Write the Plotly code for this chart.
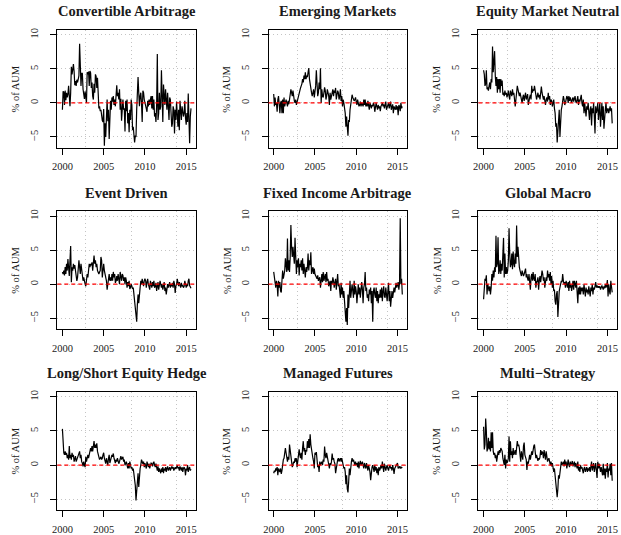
import numpy as np
import plotly.graph_objects as go

# ---------------- data (monthly, % of AUM, starting Jan 2000) ----------------
START_YEAR = 2000

TITLES = ["Convertible Arbitrage", "Emerging Markets", "Equity Market Neutral",
          "Event Driven", "Fixed Income Arbitrage", "Global Macro",
          "Long/Short Equity Hedge", "Managed Futures", "Multi\u2212Strategy"]

Y_LABEL = "% of AUM"
X_TICKS = [2000, 2005, 2010, 2015]
X_TICK_LABELS = ["2000", "2005", "2010", "2015"]
Y_TICKS = [-5, 0, 5, 10]
Y_TICK_LABELS = ["\u22125", "0", "5", "10"]

convertible_arbitrage = [
    -1.0, 1.7, 1.6, -0.3, 1.8, 0.4, 1.5, 0.8, 1.3, 2.5, 1.0, -0.5,
    1.5, 5.3, 4.2, 5.0, 5.7, 4.6, 2.6, 3.2, 2.5, 3.4, 3.0, 3.5,
    4.0, 8.7, 4.5, 2.5, 4.4, 4.3, 2.0, 1.2, 0.6, 1.7, 0.8, 0.0,
    4.5, 4.2, 4.6, 2.5, 4.7, 4.4, 2.2, 3.0, 1.0, 0.5, 2.8, 1.5,
    4.2, 3.9, 2.2, 3.7, 1.5, -0.8, -0.5, -1.2, -1.0, -2.0, -2.6, -2.8,
    -0.9, -6.3, -3.0, -5.0, -1.5, 0.5, -2.7, -1.0, -5.3, -0.5, 0.3, -1.0,
    0.8, 0.2, 1.0, -0.3, 0.5, -0.5, 1.0, 2.6, 1.0, 1.5, 0.5, 2.0,
    -1.0, 0.6, -2.6, -0.5, 0.5, -1.0, -0.8, -4.2, 0.3, -1.2, 0.5, -3.0,
    -1.5, -4.3, -1.0, -2.5, 0.5, -0.3, -4.0, -3.5, -4.3, -5.8, -4.8, -5.0,
    -1.0, 1.0, 3.8, 1.5, -0.5, 1.0, 1.5, 0.0, -2.8, 1.8, 1.5, 0.5,
    0.0, -0.5, -1.0, -1.3, 0.3, -0.5, 0.5, -0.3, 0.5, 1.0, -0.8, 1.0,
    -1.0, 0.5, -2.0, -1.5, -2.8, -0.5, 7.2, -2.5, -1.5, 1.5, -1.0, -0.5,
    4.8, -0.5, -2.8, 2.7, 1.5, -0.3, 2.0, 0.5, -1.0, 1.5, -0.5, -2.5,
    0.8, 0.5, -1.5, -3.5, -3.0, -0.5, -1.0, -4.5, -1.0, -2.5, 0.2, -1.5,
    -3.5, -1.0, -4.0, 0.3, -1.5, -2.5, -0.5, -1.8, -2.0, -1.5, 0.3, -2.2,
    -3.2, -1.5, -2.8, 1.4, -2.0, -5.9, -2.0, -0.8,
]

emerging_markets = [
    1.3, -0.5, 0.8, -0.3, 0.0, -1.3, 0.5, 1.0, -0.2, -1.5, 0.0, 0.3,
    -1.5, 0.5, -1.5, 0.8, -0.5, 0.0, 0.5, 0.0, -0.5, 0.3, -0.2, 0.5,
    1.0, 2.0, 1.5, 1.0, 1.8, 0.5, 0.3, 0.0, 0.5, -0.3, 0.2, 0.5,
    1.0, 1.5, 2.0, 2.2, 2.5, 2.8, 3.5, 3.0, 4.0, 3.5, 4.5, 3.5,
    4.0, 3.8, 4.5, 5.1, 3.5, 2.5, 2.0, 1.5, 1.0, 1.5, 2.0, 0.8,
    1.5, 2.5, 4.8, 2.0, 1.0, 1.5, 3.0, 2.0, 5.1, 0.0, 2.0, 1.0,
    0.8, 1.5, 2.3, 1.8, 0.5, 1.0, 2.0, 1.5, 1.0, -0.3, 1.5, 0.5,
    1.0, 1.5, 2.0, 1.0, 1.8, 1.5, 2.2, 0.5, 1.0, 1.8, 1.5, 0.5,
    1.0, 2.0, 0.3, 1.0, -0.5, 0.5, 0.0, -0.8, -1.5, -3.5, -2.0, -3.5,
    -4.8, -2.5, -2.8, -1.0, 0.0, 0.5, 1.2, 0.8, 0.5, 0.3, 0.5, 0.8,
    0.2, -0.3, 0.5, 0.0, -0.5, -0.3, 0.2, -0.5, 0.0, -0.2, -0.5, 0.5,
    -0.3, 0.5, -0.5, 0.0, -0.5, 0.3, -0.2, -1.0, 0.0, -0.5, -0.8, -0.3,
    -0.5, 0.0, -0.3, -1.3, -0.5, 0.0, -0.5, -1.0, -0.3, -0.8, -0.5, -1.2,
    -0.5, -0.3, 0.0, -0.5, -0.2, -0.8, -0.3, 0.2, -1.0, -0.5, -0.3, 0.0,
    -0.8, -0.3, 0.2, -1.0, -0.5, -0.2, -1.5, -0.5, -0.8, -1.0, -0.3, -1.0,
    -0.5, -1.8, -0.3, -0.5, -1.2, 0.0, -0.8, -0.5,
]

equity_market_neutral = [
    4.8, 4.2, 2.5, 2.8, 4.8, 2.0, 2.3, 1.8, 2.5, 3.0, 2.0, 3.5,
    3.0, 8.3, 4.5, 7.0, 7.6, 4.0, 2.5, 3.8, 1.5, 3.5, 2.0, 3.5,
    1.5, 3.5, 2.5, 3.3, 1.2, 1.5, 1.0, 1.8, 1.2, 1.5, 0.8, 1.2,
    1.8, 1.0, 0.5, 1.8, 1.5, 1.0, 2.0, 1.2, 1.5, 0.5, -0.5, 0.5,
    1.5, 2.5, 2.0, 1.5, 1.0, 1.5, 0.8, 0.5, 0.0, 0.8, 1.2, 0.3,
    1.0, 1.5, 0.5, 0.8, 1.3, -0.3, 0.5, 0.8, 1.2, 0.5, 2.5, 1.5,
    2.0, 1.8, 2.5, 1.5, 1.0, 0.5, 1.0, 1.5, 0.8, 1.2, 0.5, 1.5,
    2.4, 1.5, 1.0, 0.5, 1.0, 0.3, -0.3, 0.5, 0.8, 0.2, 1.5, 0.5,
    1.0, -0.3, 0.5, 0.3, -0.5, 0.0, 0.5, -0.8, -1.5, -3.5, -3.0, -5.8,
    -3.8, -1.5, -1.0, -5.0, -2.0, -1.0, -0.5, 0.0, 1.0, 0.5, -0.3, 0.0,
    0.5, 1.0, 0.8, 0.0, 1.0, 0.3, 0.8, 0.5, 0.0, 0.5, 0.8, 0.2,
    0.5, 1.0, 0.2, 0.0, 0.5, 1.0, -0.3, 0.5, 0.2, 0.8, 1.2, 0.0,
    -0.5, 0.5, -1.5, 0.0, -1.0, -2.0, -0.5, -1.0, 0.0, -1.5, -2.5, -1.0,
    -0.5, -3.3, -0.8, -1.5, 0.0, -2.0, -4.5, -0.5, -1.5, -1.0, 0.0, -2.5,
    -0.5, 0.0, -3.5, -1.0, 0.0, -2.5, -0.5, -3.8, -1.5, -1.0, 0.0, -1.5,
    -1.0, -0.8, -1.5, -1.0, -0.5, -1.2, -0.8, -3.0,
]

event_driven = [
    1.8, 1.5, 2.0, 1.3, 2.5, 1.5, 3.0, 2.0, 3.7, 2.5, 1.2, 3.5,
    5.6, 0.3, 2.5, 2.0, 3.0, 2.3, 2.8, 2.0, 1.5, 0.5, 1.0, 2.0,
    3.5, 2.5, 1.5, 3.0, 2.2, 1.0, 0.5, 1.0, 0.2, 0.0, -0.3, 0.5,
    1.5, 1.0, 2.0, 3.0, 2.5, 3.0, 2.8, 3.2, 2.0, 3.5, 4.2, 3.0,
    3.5, 2.5, 3.0, 2.0, 1.5, 1.5, 1.8, 2.0, 4.0, 3.5, 1.0, 2.5,
    3.0, 2.0, 1.5, 1.0, 0.5, -0.8, 0.3, 0.8, 1.5, 0.5, 1.0, 0.5,
    1.5, 0.5, 1.8, 1.0, 1.5, 0.2, 0.5, 1.2, 0.5, 1.5, 1.0, 0.0,
    1.8, 1.0, 0.5, 1.5, 1.3, 0.5, 1.0, 0.0, 1.0, 0.5, -0.5, 0.3,
    -0.3, 0.5, -0.7, -0.5, 0.0, -0.3, -0.7, -0.5, -1.5, -2.5, -3.5, -3.8,
    -5.5, -3.0, -1.5, -2.8, -1.0, -0.5, 0.5, 0.0, 0.8, 0.3, -0.3, 0.5,
    0.8, 0.5, -0.5, 0.3, 0.8, 0.0, -0.5, -0.8, 0.5, -0.3, -0.5, 0.3,
    -0.3, 0.5, -0.5, -0.3, 0.2, -1.0, -0.5, 0.3, -0.8, -0.3, 0.5, 0.0,
    -0.5, 0.0, -0.8, -0.3, 0.3, -1.0, -0.5, -1.5, -0.3, 0.0, -0.5, -0.2,
    0.3, -0.5, 0.0, -0.3, 0.2, -0.5, 0.5, 0.0, -1.3, -0.3, 0.0, 0.8,
    0.0, -0.3, 0.3, 0.0, -0.5, 0.2, -0.3, -0.2, -0.5, -0.3, 0.5, 0.0,
    -0.5, 0.0, -0.3, 0.5, 0.8, -0.2, -0.5, -0.6,
]

fixed_income_arbitrage = [
    1.8, 0.8, 0.3, -0.5, 0.5, 0.0, -1.8, 0.5, -0.5, 0.3, -1.0, -1.2,
    0.5, 2.0, 0.8, 1.5, 2.0, 3.8, 2.5, 1.8, 6.7, 2.0, 3.5, 1.8,
    4.0, 8.7, 5.5, 4.0, 5.5, 4.5, 3.0, 6.8, 4.0, 1.5, 3.5, 2.5,
    3.8, 1.3, 3.0, 2.5, 3.5, 2.0, 3.8, 1.5, 3.0, 2.0, 1.0, 2.5,
    1.8, 2.5, 4.5, 2.0, 3.5, 2.8, 4.7, 1.5, 2.0, 2.5, 1.5, 2.3,
    1.5, 1.2, 1.0, 0.8, 1.3, 0.5, 0.8, 1.0, -0.5, 0.5, 1.5, 0.3,
    1.8, 0.5, 1.0, 1.5, 0.3, 1.8, 0.5, 0.8, -0.3, 0.2, 0.5, -1.0,
    0.5, 0.0, 1.0, 0.5, -0.5, 0.2, 0.8, -0.8, 0.3, 1.5, -0.3, 0.0,
    -1.0, -2.0, 0.2, -1.5, -0.5, -2.0, -1.0, -2.5, -4.5, -5.5, -3.5, -6.0,
    -1.5, -3.5, -1.5, 0.5, -2.0, -0.5, 0.0, -1.0, -2.0, 0.5, -1.5, -0.3,
    -1.0, -2.8, -0.5, 0.0, -1.5, -0.5, -2.0, -1.0, 0.3, -0.8, -2.8, -0.5,
    0.0, 1.8, -1.0, -0.5, -2.0, -1.5, -2.5, -0.8, -1.5, -0.5, -2.8, -1.0,
    -5.5, -1.0, -0.5, -1.5, -2.0, -0.5, -2.5, -1.0, -2.8, -1.5, -2.0, -0.8,
    -2.0, -0.5, -2.5, -1.0, -0.3, -1.8, -2.0, -0.5, -1.5, -2.5, -1.0, 0.2,
    -2.5, -1.0, -3.3, -1.5, -1.0, -2.0, -0.8, -0.5, -1.2, -0.3, 0.2, -0.5,
    -0.2, 0.3, -0.8, 0.2, 9.7, 0.0, 0.8, -1.5,
]

global_macro = [
    -2.2, 0.5, 0.8, 0.5, 1.3, -1.5, 0.0, -0.5, -1.0, -0.3, -1.5, -0.5,
    1.5, 0.5, 2.0, 1.0, 2.5, 1.8, 7.1, 2.5, 3.0, 6.9, 1.5, 2.0,
    3.5, 1.5, 3.0, 2.0, 4.0, 6.8, 1.0, 4.5, 1.5, 2.5, 1.5, 2.0,
    3.5, 8.2, 4.5, 2.5, 3.0, 4.5, 2.2, 4.8, 3.0, 2.5, 4.5, 3.0,
    8.6, 4.0, 5.5, 3.5, 2.5, 2.0, 1.5, 1.2, 2.0, 1.5, 1.2, 1.5,
    2.0, 2.3, 1.0, 1.5, 0.8, 0.5, 1.5, -0.2, -0.8, 1.0, 1.5, 0.5,
    1.8, 0.8, 0.5, 1.5, -0.5, 0.3, 0.5, 1.0, -0.8, 0.5, 1.2, 0.3,
    1.0, 2.0, 1.5, 0.5, 1.0, -0.5, 0.3, 1.0, 0.5, 2.0, 1.0, 1.5,
    0.5, 1.8, 0.0, 1.2, -0.5, 0.5, -1.0, -0.8, -2.5, -3.0, -1.5, -1.0,
    -4.8, -2.0, -1.0, -0.5, 0.0, 0.5, 0.3, 1.5, 0.5, 0.0, 0.3, -0.5,
    0.5, 0.0, -0.5, 0.3, -1.0, 0.5, -0.5, 0.0, -1.0, -0.3, 0.5, -0.8,
    0.5, 0.0, -0.5, 0.5, -1.0, -2.8, -0.5, -1.5, -0.3, -1.5, -0.5, -1.0,
    -0.5, -1.5, 0.0, -1.0, -1.8, -0.5, -1.2, -0.8, -1.5, -0.3, -1.0, -1.8,
    -0.5, -1.0, 0.0, -1.5, -0.5, -0.8, -0.3, 0.3, -0.5, -0.2, -0.5, -0.3,
    -0.5, -0.3, -0.8, -0.5, -0.2, -0.5, -0.8, -0.3, -0.6, 0.0, -0.5, -0.2,
    0.6, -1.8, 0.0, -1.0, -1.5, 0.5, -0.5, -1.2,
]

long_short_equity_hedge = [
    5.3, 3.0, 1.8, 1.5, 2.0, 1.5, 1.8, 1.0, 1.5, 0.8, 2.8, 1.0,
    1.5, 0.8, 1.8, 1.2, 1.5, 0.5, 1.0, 1.3, 0.5, 0.8, 1.0, 1.5,
    1.8, 2.0, 1.0, 1.5, 0.5, 0.3, -0.2, 0.5, 0.0, -0.3, 1.2, 0.5,
    1.0, 1.5, 1.0, 1.5, 2.0, 2.5, 2.0, 2.8, 2.0, 3.0, 3.5, 2.5,
    3.0, 2.5, 3.2, 2.0, 1.5, 1.0, 0.8, 1.0, 1.2, 0.8, 1.0, 1.5,
    1.8, 1.0, 0.5, 0.2, 1.0, 0.5, 0.0, 1.0, 1.5, 0.3, 0.8, 1.2,
    1.5, 1.2, 1.7, 1.0, 0.5, 0.3, 0.8, 0.5, 1.0, 0.5, 0.2, 0.5,
    1.2, 1.3, 0.8, 1.0, 1.2, 0.5, 0.8, 0.0, 0.3, 0.5, 0.0, -0.5,
    0.3, -0.5, 0.5, 0.0, -0.5, -0.3, -0.8, -0.5, -1.5, -2.0, -3.0, -5.2,
    -3.5, -1.5, -1.2, -3.2, -1.0, -0.5, 0.0, 0.8, 0.5, 0.2, 0.5, -0.3,
    0.3, 0.0, -0.5, 0.5, 0.0, -0.3, 0.2, -0.5, 0.0, 0.3, 0.2, -0.2,
    0.3, 0.5, 0.0, -0.3, 0.2, -0.5, -0.8, -0.2, -1.0, -0.5, -0.8, -1.2,
    -0.5, -1.0, -0.3, -1.2, -0.5, -0.8, -0.3, -1.0, -0.5, -0.2, -0.8, -0.5,
    -0.3, -0.8, -0.5, -0.2, -0.5, -0.3, -0.8, -0.5, -0.3, -0.6, -0.2, 0.0,
    -0.5, -0.3, -0.8, -0.2, -0.5, -0.8, -0.3, -1.0, -0.5, -0.3, -0.6, -1.5,
    -0.5, -0.8, 0.0, -1.0, -0.5, -0.3, -0.8, -0.6,
]

managed_futures = [
    -1.2, -0.8, -1.0, -0.5, -0.8, -0.3, -1.5, -0.5, -0.8, -1.0, -0.5, -1.3,
    -0.8, 0.5, 0.8, 1.0, 1.5, 2.5, 1.8, 1.0, 0.5, 1.2, 0.8, 3.0,
    2.0, 1.0, 0.5, -0.3, 0.0, 0.5, 0.3, 1.0, 0.5, 1.0, -0.3, 0.5,
    1.5, 2.3, 1.5, 1.0, 1.8, 0.8, 2.5, 3.5, 2.0, 2.5, 1.5, 2.2,
    2.0, 3.5, 2.5, 3.8, 2.5, 4.5, 3.0, 2.0, 1.5, 1.0, 0.5, -0.5,
    1.8, 1.5, 1.9, 0.5, -0.3, 0.0, -1.0, 0.5, 0.0, 0.3, 0.5, 0.0,
    0.8, 0.5, 2.7, 1.5, 1.0, 1.8, 1.2, 0.5, -0.2, -0.5, 0.3, 0.0,
    0.5, 1.7, 0.8, 1.0, 0.5, 0.2, -1.2, -0.3, 0.5, 0.8, 1.0, 0.5,
    0.8, 1.0, 0.5, 1.0, 0.5, 0.0, -0.5, -0.3, -1.0, -2.8, -1.5, -3.5,
    -4.0, -2.5, -0.5, -1.5, 0.3, 0.5, 1.0, 0.5, 0.8, 0.3, 0.0, 0.5,
    0.0, 0.3, -0.3, 0.5, -0.5, 0.2, 0.6, 0.0, 0.3, 0.5, 0.0, -0.5,
    0.3, 0.0, -0.5, 0.3, -0.3, -0.8, 0.0, -0.5, -1.0, -2.2, -0.5, -0.3,
    0.0, -0.5, -1.0, 0.0, -0.8, -0.3, -1.2, -0.5, -1.5, -0.3, -0.8, -0.5,
    0.0, -0.5, 0.5, -0.3, -1.0, 0.2, -0.5, -0.8, -0.3, 0.0, -0.5, -0.8,
    -0.3, 0.0, -0.5, -0.3, -0.8, 0.0, -0.5, -1.3, -0.5, -0.3, -0.2, 0.0,
    0.3, -0.5, -0.3, -0.2, -0.5, -0.3, -0.4, -0.3,
]

multi_strategy = [
    5.6, 2.3, 3.0, 6.8, 5.0, 2.0, 2.5, 4.0, 2.3, 3.5, 2.0, 4.8,
    2.5, 4.8, 2.0, 1.5, 1.8, 1.0, 1.5, 0.5, 1.2, 2.0, 1.5, 2.2,
    1.8, 2.5, 2.3, 2.0, 1.0, 0.5, 0.0, 1.5, -0.5, 0.8, 0.3, 0.5,
    1.0, 4.2, 0.5, 3.5, 1.5, 2.0, 1.0, 2.5, 1.5, 1.8, 2.2, 1.5,
    2.5, 3.5, 2.8, 3.0, 2.5, 1.5, 0.5, 2.0, 1.0, 0.8, 2.8, 3.3,
    1.5, 1.0, 0.8, -0.7, 0.5, 0.2, 1.0, 1.5, 0.8, 1.8, 2.0, 1.5,
    2.5, 2.8, 3.0, 2.0, 1.0, 1.5, 0.8, 0.6, 1.0, 0.8, 1.2, 2.2,
    1.5, 2.0, 1.8, 1.0, 2.2, 1.5, 0.8, 2.0, 1.5, 0.5, 0.8, 1.0,
    0.5, 0.0, 0.5, -0.2, 0.3, -0.5, -1.0, -0.5, -1.5, -2.5, -3.5, -4.7,
    -3.5, -1.5, -2.0, -1.0, 0.0, 0.5, 0.0, 0.3, 0.5, -0.2, 0.8, 0.0,
    0.5, -0.5, 0.3, 0.8, 0.0, -0.3, 0.5, 0.0, 0.2, 0.6, -0.2, 0.3,
    0.5, -0.3, 0.3, 0.0, -0.5, 0.5, -0.8, -0.3, -1.0, 0.0, -0.5, -0.3,
    -0.8, -1.2, -0.5, -0.3, -1.0, -0.5, -0.3, -1.0, -0.5, -0.8, -0.3, -1.0,
    0.0, 0.5, -0.8, -0.3, 0.3, -1.0, -0.5, 0.3, -0.8, -1.9, 0.5, -0.5,
    0.2, -0.5, -1.0, -0.3, -0.8, -1.5, 0.2, -1.5, -0.5, -2.0, -0.5, -1.0,
    0.3, -1.8, -0.5, -0.8, 0.2, -1.5, 0.3, -2.3,
]

SERIES = [convertible_arbitrage, emerging_markets, equity_market_neutral,
          event_driven, fixed_income_arbitrage, global_macro,
          long_short_equity_hedge, managed_futures, multi_strategy]

# ---------------- styling / layout ----------------
W, H = 621, 535
FONT = "Liberation Serif"
TXT = "#1a1a1a"
COLS = [(52.7, 192.7), (265.7, 405.7), (477.3, 617.3)]   # plot-box x extents (px)
ROWS = [(28.0, 146.7), (210.3, 329.0), (392.0, 511.0)]   # plot-box y extents (px)
Y_RANGE = [-6.6, 10.73]
GRID_COLOR = "#c4c4c4"
GRID_DASH = "1px,3px"
# R's grid() on a Date axis: pretty() of day counts 12000, 14000, 16000
GRID_X = [2002.855, 2008.33, 2013.805]

fig = go.Figure()
annotations = []
shapes = []

for k, (title, vals) in enumerate(zip(TITLES, SERIES)):
    r, c = divmod(k, 3)
    n = len(vals)
    x = START_YEAR + np.arange(n) / 12.0
    span = x[-1] - x[0]
    xr = [x[0] - 0.04 * span, x[-1] + 0.04 * span]
    sfx = "" if k == 0 else str(k + 1)
    fig.add_trace(go.Scatter(
        x=x, y=vals, mode="lines",
        line=dict(color="black", width=1.2),
        xaxis="x" + sfx, yaxis="y" + sfx,
        showlegend=False, hoverinfo="skip"))

    x0, x1 = COLS[c]
    y0, y1 = ROWS[r]
    common = dict(showline=True, mirror=True, linecolor="black", linewidth=1,
                  ticks="outside", ticklen=6, tickcolor="black", tickwidth=1,
                  zeroline=False, fixedrange=True,
                  tickfont=dict(family=FONT, size=10.5, color=TXT))
    fig.update_layout(**{
        "xaxis" + sfx: dict(
            domain=[x0 / W, x1 / W], anchor="y" + sfx, range=xr,
            tickmode="array", tickvals=X_TICKS, ticktext=X_TICK_LABELS,
            showgrid=False, ticklabelstandoff=3,
            minor=dict(tickmode="array", tickvals=GRID_X, showgrid=True,
                       gridcolor=GRID_COLOR, griddash=GRID_DASH, gridwidth=1,
                       ticks=""),
            **common),
        "yaxis" + sfx: dict(
            domain=[1 - y1 / H, 1 - y0 / H], anchor="x" + sfx, range=Y_RANGE,
            tickmode="array", tickvals=Y_TICKS, ticktext=Y_TICK_LABELS,
            tickangle=-90, showgrid=True, gridcolor=GRID_COLOR,
            griddash=GRID_DASH, gridwidth=1, ticklabelstandoff=8,
            **common),
    })
    # red dashed zero line
    shapes.append(dict(type="line", xref="x" + sfx + " domain", yref="y" + sfx,
                       x0=0, x1=1, y0=0, y1=0,
                       line=dict(color="#ff0000", width=1.2, dash="4px,3px")))
    # panel title
    annotations.append(dict(text="<b>" + title + "</b>", xref="paper", yref="paper",
                            x=(x0 + x1) / 2 / W, y=1 - (y0 - 18.5) / H,
                            xanchor="center", yanchor="middle", showarrow=False,
                            font=dict(family=FONT, size=14.5, color=TXT)))
    # y-axis label
    annotations.append(dict(text=Y_LABEL, xref="paper", yref="paper",
                            x=(x0 - 42) / W, y=1 - (y0 + y1) / 2 / H,
                            xanchor="center", yanchor="middle", textangle=-90,
                            showarrow=False,
                            font=dict(family=FONT, size=10.5, color=TXT)))

fig.update_layout(width=W, height=H, margin=dict(l=0, r=0, t=0, b=0),
                  paper_bgcolor="white", plot_bgcolor="white",
                  annotations=annotations, shapes=shapes, showlegend=False)

fig.write_html("out.html")
